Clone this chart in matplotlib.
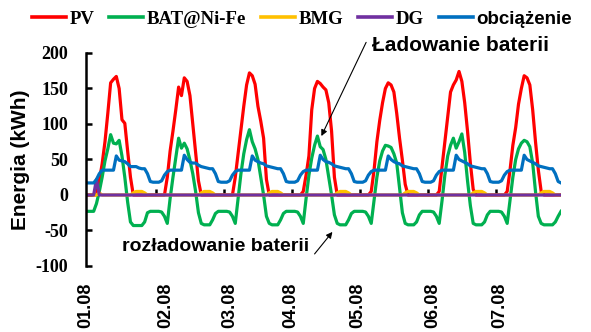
import matplotlib
matplotlib.use("Agg")
import matplotlib.pyplot as plt

plt.rcParams["axes.unicode_minus"] = False

# ---------------- data (hourly, 7 days x 24 h) ----------------
pv_days = [
    [0,0,0,0,20,44,75,115,158,163,167,150,106,101,62,25,0,0,0,0,0,0,0,0],
    [0,0,0,0,25,62,90,120,152,140,165,160,140,100,60,20,0,0,0,0,0,0,0,0],
    [0,0,0,0,25,58,92,125,155,172,168,156,125,104,80,22,0,0,0,0,0,0,0,0],
    [0,0,0,0,5,28,55,120,150,160,157,152,148,130,90,25,0,0,0,0,0,0,0,0],
    [0,0,0,0,5,35,75,105,130,150,158,155,145,115,80,49,15,0,0,0,0,0,0,0],
    [0,0,0,0,5,40,75,110,145,155,162,174,160,130,90,45,8,0,0,0,0,0,0,0],
    [0,0,0,0,5,35,70,95,128,150,168,165,155,120,75,35,5,0,0,0,0,0,0,0],
]
bat_days = [
    [-23,-23,-23,-12,5,25,48,65,85,73,72,77,55,25,-10,-38,-43,-43,-43,-43,-38,-25,-23,-23],
    [-23,-23,-24,-30,-40,-5,25,52,80,66,73,65,49,30,5,-25,-40,-42,-42,-42,-35,-26,-23,-23],
    [-23,-23,-24,-30,-40,-5,30,58,78,92,75,65,50,25,0,-30,-40,-42,-42,-42,-35,-26,-23,-23],
    [-23,-23,-24,-30,-40,-5,28,52,70,83,68,64,50,25,0,-28,-40,-42,-42,-42,-35,-26,-23,-23],
    [-23,-23,-24,-30,-40,-8,25,48,62,70,69,67,58,45,10,-25,-40,-42,-42,-42,-38,-28,-23,-23],
    [-23,-23,-24,-30,-40,-8,28,55,70,80,66,75,86,60,20,-15,-40,-42,-42,-42,-38,-28,-23,-23],
    [-23,-23,-24,-30,-40,-8,25,50,65,73,77,75,68,45,5,-30,-40,-42,-42,-42,-42,-38,-30,-23],
]
bmg_days = [
    [0,0,0,0,3,0,0,0,0,0,0,0,0,0,0,0,3,5,5,5,3,0,0,0],
    [0,0,0,0,0,0,0,0,0,0,0,0,0,0,0,0,3,5,5,5,3,0,0,0],
    [0,0,0,0,0,0,0,0,0,0,0,0,0,0,0,0,3,5,5,5,3,0,0,0],
    [0,0,0,0,0,0,0,0,0,0,0,0,0,0,0,0,3,5,5,5,3,0,0,0],
    [0,0,0,0,0,0,0,0,0,0,0,0,0,0,0,0,3,5,5,5,3,0,0,0],
    [0,0,0,0,0,0,0,0,0,0,0,0,0,0,0,0,3,5,5,5,3,0,0,0],
    [0,0,0,0,0,0,0,0,0,0,0,0,0,0,0,0,3,5,5,5,3,0,0,0],
]
dg_days = [
    [0,0,0,22,0,0,0,0,0,0,0,0,0,0,0,0,0,0,0,0,0,0,0,0],
    [0]*24, [0]*24, [0]*24, [0]*24, [0]*24, [0]*24,
]
load_days = [
    [17,17,17,22,30,35,35,35,35,35,55,49,48,47,44,40,40,40,38,37,37,30,19,18],
    [18,18,20,28,33,35,35,35,35,35,56,50,46,45,45,42,40,39,38,37,37,30,19,18],
    [18,18,20,28,33,35,35,35,35,35,55,49,47,45,44,41,40,39,38,37,37,30,19,18],
    [18,18,20,28,33,35,35,35,35,35,56,50,47,46,44,41,40,39,38,37,37,30,19,18],
    [18,18,20,28,33,35,35,35,35,35,55,50,47,45,44,41,40,39,38,37,37,30,19,18],
    [18,18,20,28,33,35,35,35,35,35,56,50,48,46,44,41,40,39,38,37,37,30,19,18],
    [18,18,20,28,33,35,35,35,35,35,56,50,48,46,44,41,40,39,38,37,37,30,19,17],
]
day_labels = ["01.08", "02.08", "03.08", "04.08", "05.08", "06.08", "07.08"]
label_hours = [-0.7, 27.5, 50.1, 71.6, 95.3, 121.8, 145.4]
day_bounds = [24, 48, 72, 96, 120, 144]
series_names = ["PV", "BAT@Ni-Fe", "BMG", "DG", "obciążenie"]
series_colors = ["#ff0000", "#00b050", "#ffc000", "#7030a0", "#0070c0"]

def flat(days):
    return [v for d in days for v in d]

series = [flat(pv_days), flat(bat_days), flat(bmg_days), flat(dg_days), flat(load_days)]
hours = list(range(len(series[0])))

# ---------------- figure ----------------
W, H = 591, 332
fig = plt.figure(figsize=(W/100, H/100), dpi=100)
L, R, B, T = 86, 561, 266, 53
ax = fig.add_axes([L/W, 1 - B/H, (R-L)/W, (B-T)/H])

serif = ["Liberation Serif", "DejaVu Serif"]
sans = ["Liberation Sans", "DejaVu Sans"]

for y, name, c in zip(series, series_names, series_colors):
    ax.plot(hours, y, color=c, lw=2.3, label=name, solid_joinstyle="round")

ymin, ymax = -100, 200
ax.set_xlim(0, hours[-1])
ax.set_ylim(ymin, ymax)
ax.set_yticks([-100, -50, 0, 50, 100, 150, 200])
for s in ["top", "right", "bottom"]:
    ax.spines[s].set_visible(False)
ax.spines["left"].set_linewidth(1.8)
ax.tick_params(axis="y", direction="in", length=4, width=1.8, pad=13)
for lab in ax.get_yticklabels():
    lab.set_fontfamily(serif)
    lab.set_fontweight("bold")
    lab.set_fontsize(13)

ax.set_xticks(label_hours)
ax.set_xticklabels(day_labels, rotation=90, fontfamily=sans, fontweight="bold", fontsize=13)
ax.tick_params(axis="x", length=0, pad=12)

# day boundary ticks on the zero line
sec = ax.secondary_xaxis((0 - ymin) / (ymax - ymin))
sec.set_xticks(day_bounds)
sec.tick_params(direction="in", length=4, width=1.8, labelbottom=False)
sec.spines["bottom"].set_visible(False)

ax.set_ylabel("Energia (kWh)", fontfamily=sans, fontweight="bold", fontsize=15)
ax.yaxis.set_label_coords(-0.118, 0.5)

leg = ax.legend(loc="center", bbox_to_anchor=(302/W, 1 - 19/H), bbox_transform=fig.transFigure,
                ncol=5, frameon=False, handlelength=1.8, handletextpad=0.2,
                columnspacing=0.8, prop={"weight": "bold", "size": 13.5})
for i, t in enumerate(leg.get_texts()):
    t.set_fontfamily(sans if i == 4 else serif)
for h in leg.get_lines():
    h.set_linewidth(2.6)

# annotations
ax.text(100.3, 211, "Ładowanie baterii", fontfamily=sans, fontweight="bold", fontsize=15,
        ha="left", va="center", clip_on=False)
ax.annotate("", xy=(82.4, 83), xytext=(98.2, 215), annotation_clip=False,
            arrowprops=dict(arrowstyle="-|>", lw=0.8, color="black", mutation_scale=9,
                            shrinkA=0, shrinkB=0))
ax.text(11.9, -73, "rozładowanie baterii", fontfamily=sans, fontweight="bold", fontsize=14,
        ha="left", va="center", clip_on=False)
ax.annotate("", xy=(86.3, -52), xytext=(80, -83), annotation_clip=False,
            arrowprops=dict(arrowstyle="-|>", lw=0.8, color="black", mutation_scale=9,
                            shrinkA=0, shrinkB=0))

fig.savefig("out.png", dpi=100)
